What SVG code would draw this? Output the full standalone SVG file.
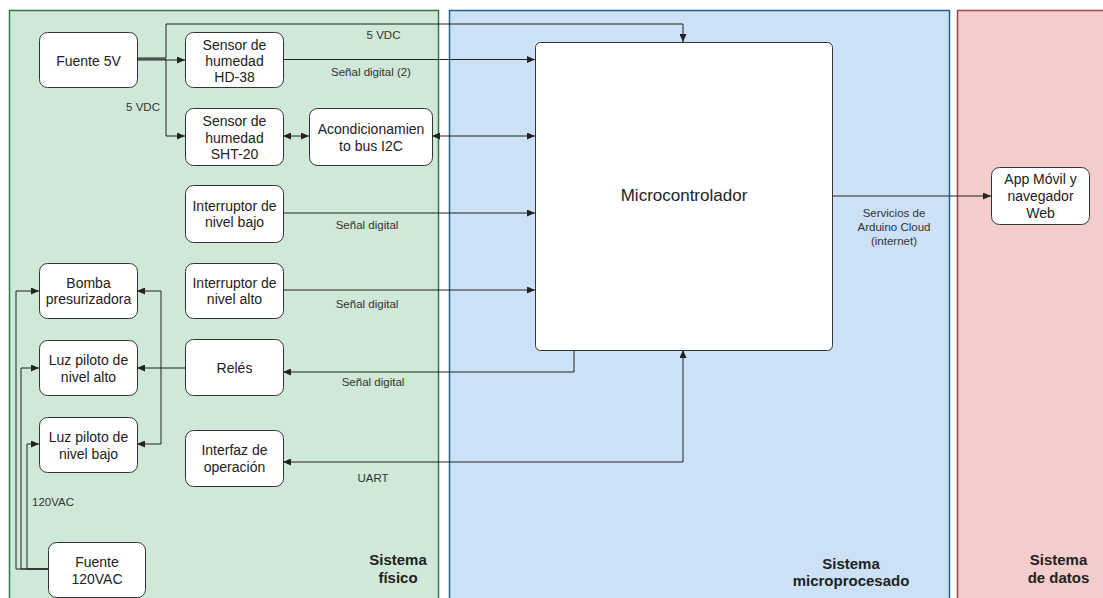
<svg xmlns="http://www.w3.org/2000/svg" width="1103" height="598" viewBox="0 0 1103 598">
<style>
.node rect{fill:#fff;stroke:#333;stroke-width:1}
.nt{font-family:"Liberation Sans",Arial,sans-serif;font-size:14px;fill:#222;text-anchor:middle}
.el{font-family:"Liberation Sans",Arial,sans-serif;font-size:11.5px;fill:#333;text-anchor:middle}
.cl{font-family:"Liberation Sans",Arial,sans-serif;font-size:15px;font-weight:bold;fill:#222;text-anchor:middle}
.edges path{fill:none;stroke:#222;stroke-width:1}
.a{marker-end:url(#arr)}
.b{marker-start:url(#arr);marker-end:url(#arr)}
</style>
<defs>
<marker id="arr" viewBox="0 0 8 7" refX="8" refY="3.5" markerWidth="8" markerHeight="7" markerUnits="userSpaceOnUse" orient="auto-start-reverse">
<path d="M0,0 L8,3.5 L0,7 z" fill="#222"/>
</marker>
</defs>
<rect width="1103" height="598" fill="#fff"/>
<g id="sistema-fisico">
<rect x="9.5" y="10.5" width="429" height="600" fill="#cfe8d8" stroke="#2a7a4a" stroke-width="1.5"/>
<text class="cl" x="398" y="565">Sistema</text>
<text class="cl" x="398" y="583">físico</text>
</g>
<g id="sistema-microprocesado">
<rect x="449.5" y="10.5" width="500" height="600" fill="#cce1f6" stroke="#1f6391" stroke-width="1.5"/>
<text class="cl" x="851" y="568.5">Sistema</text>
<text class="cl" x="851" y="586">microprocesado</text>
</g>
<g id="sistema-datos">
<rect x="957.5" y="10.5" width="160" height="600" fill="#f4cccc" stroke="#a84444" stroke-width="1.5"/>
<text class="cl" x="1058.5" y="565">Sistema</text>
<text class="cl" x="1058.5" y="582.5">de datos</text>
</g>
<g class="edges" id="connectors">
<path d="M137,58 H166 V24 H683 V42" class="a"/>
<path d="M137,60 H185" class="a"/>
<path d="M137,59 H166 V136 H185" class="a"/>
<path d="M283,59.5 H535" class="a"/>
<path d="M283,136 H309" class="b"/>
<path d="M432,136 H535" class="b"/>
<path d="M283,213 H535" class="a"/>
<path d="M283,290 H535" class="a"/>
<path d="M574,350 V372 H283" class="a"/>
<path d="M683,350 V462 H283" class="b"/>
<path d="M832,196 H991" class="a"/>
<path d="M185,368 H137" class="a"/>
<path d="M161,368 V291 H137" class="a"/>
<path d="M161,368 V444 H137" class="a"/>
<path d="M48,569 H16 V291 H39" class="a"/>
<path d="M48,569 H21 V368 H39" class="a"/>
<path d="M48,569 H27 V444 H39" class="a"/>
<text class="el" x="383.5" y="39">5 VDC</text>
<text class="el" x="143" y="110.5">5 VDC</text>
<text class="el" x="371" y="76">Señal digital (2)</text>
<text class="el" x="367" y="229">Señal digital</text>
<text class="el" x="367" y="308">Señal digital</text>
<text class="el" x="373" y="386">Señal digital</text>
<text class="el" x="373" y="481.5">UART</text>
<text class="el" x="32" y="506" style="text-anchor:start">120VAC</text>
<text class="el" x="894" y="216.5">Servicios de</text>
<text class="el" x="894" y="231">Arduino Cloud</text>
<text class="el" x="894" y="245">(internet)</text>
</g>
<g id="fuente5v" class="node"><rect x="39.5" y="32.5" width="98" height="55" rx="8"/><text class="nt" x="88.5" y="66">Fuente 5V</text></g>
<g id="hd38" class="node"><rect x="185.5" y="32.5" width="98" height="55" rx="8"/><text class="nt" x="234.5" y="50">Sensor de</text><text class="nt" x="234.5" y="66">humedad</text><text class="nt" x="234.5" y="82">HD-38</text></g>
<g id="sht20" class="node"><rect x="185.5" y="108.5" width="98" height="57" rx="8"/><text class="nt" x="234.5" y="126">Sensor de</text><text class="nt" x="234.5" y="142.5">humedad</text><text class="nt" x="234.5" y="159">SHT-20</text></g>
<g id="acond" class="node"><rect x="309.5" y="108.5" width="123" height="57" rx="8"/><text class="nt" x="371" y="134">Acondicionamien</text><text class="nt" x="371" y="151">to bus I2C</text></g>
<g id="intbajo" class="node"><rect x="185.5" y="185.5" width="98" height="57" rx="8"/><text class="nt" x="234.5" y="210.5">Interruptor de</text><text class="nt" x="234.5" y="227">nivel bajo</text></g>
<g id="intalto" class="node"><rect x="185.5" y="263.5" width="98" height="55" rx="8"/><text class="nt" x="234.5" y="287.5">Interruptor de</text><text class="nt" x="234.5" y="304">nivel alto</text></g>
<g id="bomba" class="node"><rect x="39.5" y="263.5" width="98" height="55" rx="8"/><text class="nt" x="88.5" y="287.5">Bomba</text><text class="nt" x="88.5" y="304">presurizadora</text></g>
<g id="reles" class="node"><rect x="185.5" y="339.5" width="98" height="56" rx="8"/><text class="nt" x="234.5" y="373">Relés</text></g>
<g id="luzalto" class="node"><rect x="39.5" y="340.5" width="98" height="55" rx="8"/><text class="nt" x="88.5" y="365">Luz piloto de</text><text class="nt" x="88.5" y="381.5">nivel alto</text></g>
<g id="luzbajo" class="node"><rect x="39.5" y="417.5" width="98" height="55" rx="8"/><text class="nt" x="88.5" y="442">Luz piloto de</text><text class="nt" x="88.5" y="458.5">nivel bajo</text></g>
<g id="interfaz" class="node"><rect x="185.5" y="430.5" width="98" height="56" rx="8"/><text class="nt" x="234.5" y="455">Interfaz de</text><text class="nt" x="234.5" y="471.5">operación</text></g>
<g id="fuente120" class="node"><rect x="48.5" y="542.5" width="97" height="55" rx="8"/><text class="nt" x="97" y="566.5">Fuente</text><text class="nt" x="97" y="584">120VAC</text></g>
<g id="micro" class="node"><rect x="535.5" y="42.5" width="297" height="308" rx="5"/><text class="nt" x="684" y="201" style="font-size:17px">Microcontrolador</text></g>
<g id="app" class="node"><rect x="991.5" y="167.5" width="98" height="57" rx="8"/><text class="nt" x="1040.5" y="184">App Móvil y</text><text class="nt" x="1040.5" y="201">navegador</text><text class="nt" x="1040.5" y="218">Web</text></g>
</svg>
